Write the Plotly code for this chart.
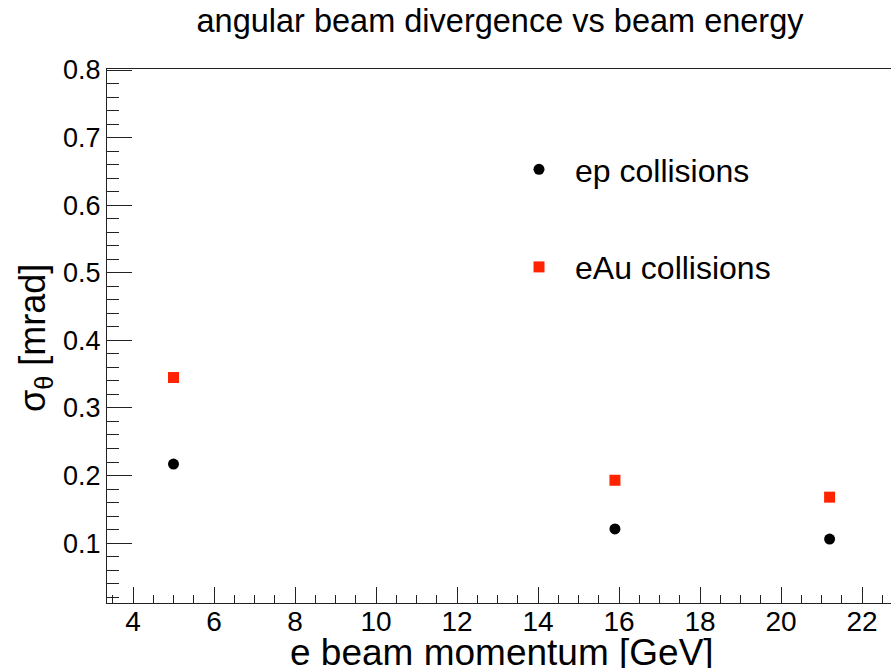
import plotly.graph_objects as go

# data
beam_momentum = [5.0, 15.9, 21.2]
ep_sigma = [0.217, 0.121, 0.106]
eau_sigma = [0.345, 0.193, 0.168]
series_names = ["ep collisions", "eAu collisions"]

FONT = "Liberation Sans, Arial, sans-serif"
W, H = 891, 668
L, T, B = 107, 69, 65

fig = go.Figure()
fig.add_trace(go.Scatter(x=beam_momentum, y=ep_sigma, mode="markers", name=series_names[0],
                         legendgroup="a",
                         marker=dict(symbol="circle", size=11, color="black")))
fig.add_trace(go.Scatter(x=beam_momentum, y=eau_sigma, mode="markers", name=series_names[1],
                         legendgroup="b",
                         marker=dict(symbol="square", size=11, color="rgb(255,35,0)")))

axcol = "#222222"
fig.update_layout(
    width=W, height=H,
    margin=dict(l=L, r=0, t=T, b=B, pad=0),
    paper_bgcolor="white", plot_bgcolor="white",
    font=dict(family=FONT, color="black", size=28),
    title=dict(text="angular beam divergence vs beam energy", xref="container", yref="container",
               x=500 / W, y=1 - 21 / H, xanchor="center", yanchor="middle",
               font=dict(size=32.5, family=FONT)),
    showlegend=True,
    legend=dict(x=(503 - L) / (W - L), y=1 - (142 - T) / (H - T - B), xanchor="left", yanchor="top",
                font=dict(size=32, family=FONT), bgcolor="rgba(0,0,0,0)",
                tracegroupgap=53, itemwidth=62),
    xaxis=dict(range=[3.358, 22.716], showgrid=False, zeroline=False,
               showline=True, linecolor=axcol, linewidth=1, mirror=True,
               ticks="inside", ticklen=16, tickcolor=axcol, tickwidth=1,
               dtick=2, tick0=0, tickfont=dict(size=28), ticklabelstandoff=-7,
               minor=dict(ticks="inside", ticklen=8, dtick=0.5, tick0=0, tickcolor=axcol)),
    yaxis=dict(range=[0.0114, 0.8015], showgrid=False, zeroline=False,
               showline=True, linecolor=axcol, linewidth=1, mirror=False,
               ticks="inside", ticklen=25, tickcolor=axcol, tickwidth=1,
               dtick=0.1, tick0=0, tickfont=dict(size=27), tickformat=".1f",
               minor=dict(ticks="inside", ticklen=12, dtick=0.02, tick0=0, tickcolor=axcol)),
    annotations=[
        dict(text="e beam momentum [GeV]", xref="paper", yref="paper",
             x=(502 - L) / (W - L), y=-(652 - (H - B)) / (H - T - B),
             xanchor="center", yanchor="middle", showarrow=False,
             font=dict(size=37, family=FONT)),
        dict(text="σ<sub>θ</sub> [mrad]", xref="paper", yref="paper",
             x=(35 - L) / (W - L), y=((H - B) - 338) / (H - T - B),
             xanchor="center", yanchor="middle", showarrow=False, textangle=-90,
             font=dict(size=36, family=FONT)),
    ],
)

fig.write_html("out.html")
